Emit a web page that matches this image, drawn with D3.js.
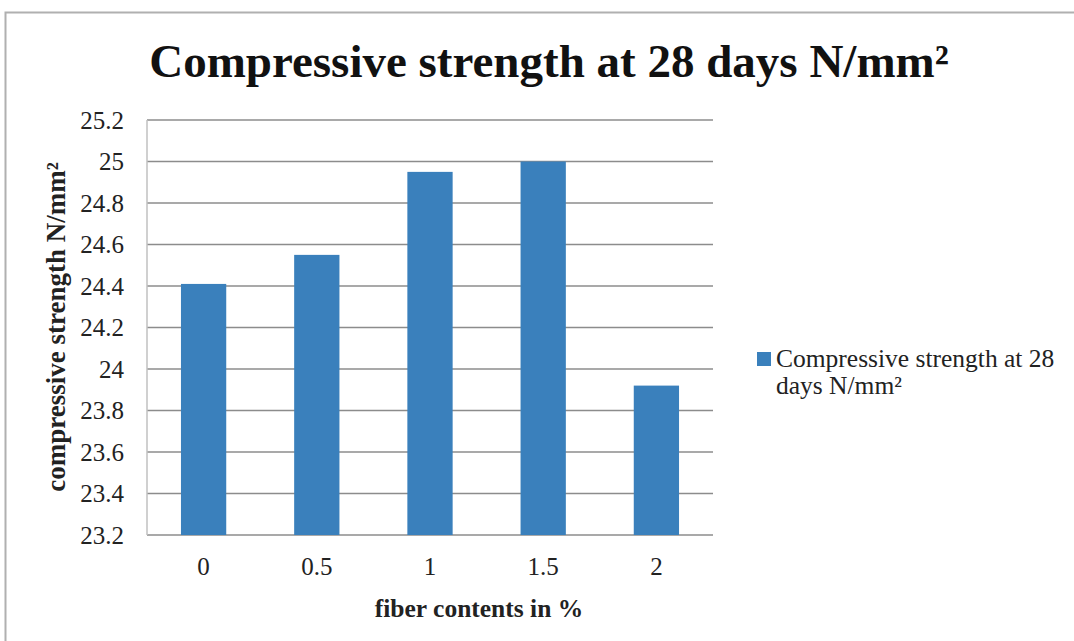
<!DOCTYPE html>
<html><head><meta charset="utf-8">
<script src="https://cdn.jsdelivr.net/npm/d3@7"></script>
<style>body{margin:0;background:#fff}svg{display:block}text{font-family:"Liberation Serif","Times New Roman",serif}</style>
</head><body><svg id="c" width="1074" height="641"></svg>
<script>
const categories = ["0","0.5","1","1.5","2"];
const values = [24.41, 24.55, 24.95, 25.0, 23.92];
const yTicks = [23.2,23.4,23.6,23.8,24,24.2,24.4,24.6,24.8,25,25.2];
const title = "Compressive strength at 28 days N/mm²";
const legendLines = ["Compressive strength at 28", "days N/mm²"];
const SERIF = '"Liberation Serif","Times New Roman",serif';

const svg = d3.select("#c");
// outer frame
svg.append("rect").attr("x",5.5).attr("y",12.5).attr("width",1080).attr("height",640)
  .attr("fill","none").attr("stroke","#b0b0b0").attr("stroke-width",2);

const L=147, R=713, T=120, B=535;
const x = d3.scaleBand().domain(categories).range([L,R]).paddingInner(0.6).paddingOuter(0.3);
const y = d3.scaleLinear().domain([23.2,25.2]).range([B,T]);

// gridlines
svg.append("g").selectAll("line").data(yTicks).join("line")
  .attr("x1",L).attr("x2",R).attr("y1",d=>y(d)).attr("y2",d=>y(d))
  .attr("stroke","#8c8c8c").attr("stroke-width",1.3);
// y axis line
svg.append("line").attr("x1",L).attr("x2",L).attr("y1",T).attr("y2",B).attr("stroke","#c0c0c0").attr("stroke-width",1.5);

// y axis labels
const yAxis = d3.axisLeft(y).tickValues(yTicks).tickSize(0).tickPadding(23).tickFormat(d=>String(+d.toFixed(1)));
const gy = svg.append("g").attr("transform",`translate(${L},0)`).call(yAxis).attr("font-family",SERIF);
gy.select(".domain").remove();
gy.selectAll("text").style("font-family",SERIF).attr("font-size",25).attr("fill","#222");

// bars
svg.append("g").selectAll("rect").data(values).join("rect")
  .attr("x",(d,i)=>x(categories[i])).attr("width",x.bandwidth())
  .attr("y",d=>y(d)).attr("height",d=>B-y(d)).attr("fill","#3a80bc");

// x axis labels
const xb = d3.scaleBand().domain(categories).range([L,R]);
const xAxis = d3.axisBottom(xb).tickSize(0).tickPadding(22);
const gx = svg.append("g").attr("transform",`translate(0,${B})`).call(xAxis).attr("font-family",SERIF);
gx.select(".domain").remove();
gx.selectAll("text").style("font-family",SERIF).attr("font-size",25).attr("fill","#222");

// title
svg.append("text").attr("x",549).attr("y",77).attr("text-anchor","middle")
  .attr("font-size",47).attr("font-weight","bold").attr("fill","#111").text(title);

// axis titles
svg.append("text").attr("x",479).attr("y",617).attr("text-anchor","middle")
  .attr("font-size",25.5).attr("font-weight","bold").attr("fill","#222").text("fiber contents in %");
svg.append("text").attr("transform","translate(65,327) rotate(-90)").attr("text-anchor","middle")
  .attr("font-size",27).attr("font-weight","bold").attr("fill","#222").text("compressive strength N/mm²");

// legend
const lg = svg.append("g").attr("transform","translate(757,352)");
lg.append("rect").attr("width",14).attr("height",14).attr("fill","#3a80bc");
lg.selectAll("text").data(legendLines).join("text")
  .attr("x",19).attr("y",(d,i)=>15+i*27).attr("font-size",25.5).attr("fill","#222").text(d=>d);
</script></body></html>
